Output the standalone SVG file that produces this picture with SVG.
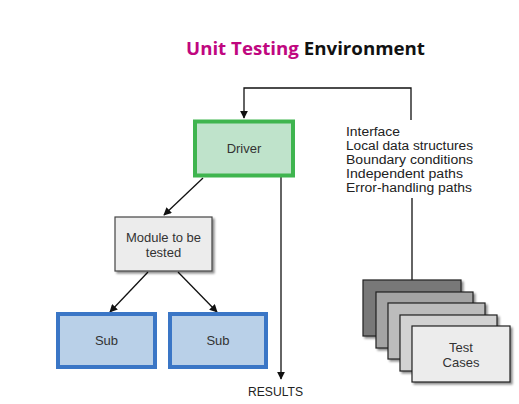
<svg xmlns="http://www.w3.org/2000/svg" width="519" height="404" viewBox="0 0 519 404">
<defs>
<marker id="ah" viewBox="0 0 10 10" refX="9" refY="5" markerWidth="8" markerHeight="8" markerUnits="userSpaceOnUse" orient="auto">
<path d="M0,0 L10,5 L0,10 z" fill="#111"/>
</marker>
<filter id="sh" x="-10%" y="-10%" width="130%" height="130%">
<feDropShadow dx="2" dy="2" stdDeviation="1" flood-color="#000" flood-opacity="0.45"/>
</filter>
</defs>
<style>
.t{font-family:"Liberation Sans",Arial,sans-serif;font-size:13px;fill:#333;text-anchor:middle}
.lst{font-family:"Liberation Sans",Arial,sans-serif;font-size:12.3px;fill:#222}
.ln{stroke:#111;stroke-width:1.3;fill:none}
.card{stroke:#222;stroke-width:1.2;filter:url(#sh)}
</style>
<rect width="519" height="404" fill="#fff"/>
<text x="186" y="55" font-family="'Open Sans','Noto Sans',sans-serif" font-weight="bold" font-size="18.5" textLength="239" lengthAdjust="spacingAndGlyphs"><tspan fill="#c0077f">Unit Testing</tspan> <tspan fill="#111">Environment</tspan></text>
<g id="connectors">
<polyline class="ln" points="411,120 411,88 244,88 244,118" marker-end="url(#ah)"/>
<line class="ln" x1="412" y1="198" x2="412" y2="280"/>
<line class="ln" x1="281" y1="177" x2="281" y2="379" marker-end="url(#ah)"/>
<line class="ln" x1="203" y1="178" x2="164" y2="215" marker-end="url(#ah)"/>
<line class="ln" x1="148" y1="272" x2="110" y2="312" marker-end="url(#ah)"/>
<line class="ln" x1="178" y1="272" x2="217" y2="312" marker-end="url(#ah)"/>
</g>
<g id="driver">
<rect x="195" y="121.5" width="98" height="54" fill="#bfe3cb" stroke="#3fb54f" stroke-width="4"/>
<text class="t" x="244" y="153" fill="#345">Driver</text>
</g>
<g id="list">
<text class="lst" x="346" y="136" textLength="54" lengthAdjust="spacingAndGlyphs">Interface</text>
<text class="lst" x="346" y="150" textLength="127" lengthAdjust="spacingAndGlyphs">Local data structures</text>
<text class="lst" x="346" y="164" textLength="127" lengthAdjust="spacingAndGlyphs">Boundary conditions</text>
<text class="lst" x="346" y="178" textLength="117" lengthAdjust="spacingAndGlyphs">Independent paths</text>
<text class="lst" x="346" y="192" textLength="126" lengthAdjust="spacingAndGlyphs">Error-handling paths</text>
</g>
<g id="module">
<rect x="115" y="217" width="97" height="54" fill="#ececec" stroke="#444" stroke-width="1.2" filter="url(#sh)"/>
<text class="t" x="163.5" y="242">Module to be</text>
<text class="t" x="163.5" y="257">tested</text>
</g>
<g id="sub1">
<rect x="58" y="314" width="97" height="53" fill="#b9d0e8" stroke="#3a76c6" stroke-width="4"/>
<text class="t" x="106.5" y="345">Sub</text>
</g>
<g id="sub2">
<rect x="170" y="314" width="96" height="53" fill="#b9d0e8" stroke="#3a76c6" stroke-width="4"/>
<text class="t" x="218" y="345">Sub</text>
</g>
<g id="testcases">
<rect class="card" x="363" y="280" width="98" height="56" fill="#787878"/>
<rect class="card" x="376" y="292" width="97" height="56" fill="#a4a4a4"/>
<rect class="card" x="388" y="303" width="97" height="56" fill="#bcbcbc"/>
<rect class="card" x="400" y="315" width="97" height="56" fill="#d2d2d2"/>
<rect class="card" x="412" y="326" width="98" height="56" fill="#ececec"/>
<text class="t" x="461" y="352">Test</text>
<text class="t" x="461" y="367">Cases</text>
</g>
<text x="248" y="396" font-family="'Liberation Sans',Arial,sans-serif" font-size="12.5" fill="#222" textLength="55" lengthAdjust="spacingAndGlyphs">RESULTS</text>
</svg>
